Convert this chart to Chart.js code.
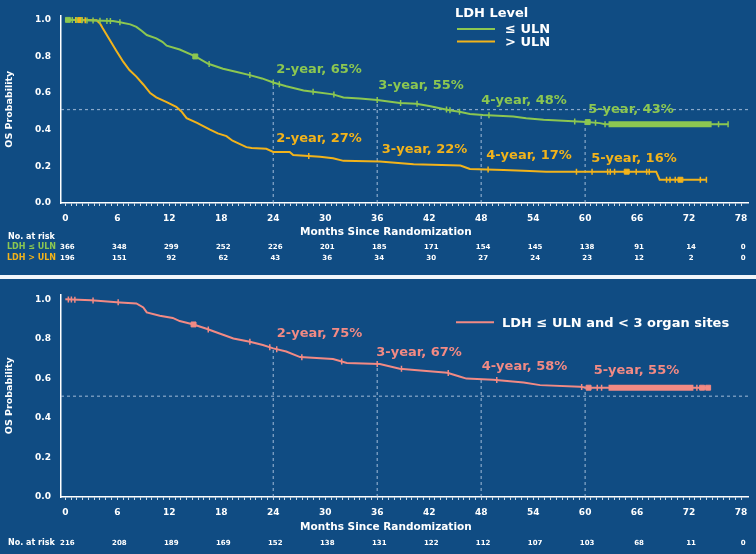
<!DOCTYPE html>
<html>
<head>
<meta charset="utf-8">
<script src="https://cdn.jsdelivr.net/npm/chart.js@4.4.1/dist/chart.umd.min.js"></script>
<style>
html, body { margin: 0; padding: 0; background: #104c83; }
#wrap { width: 756px; height: 554px; background: #104c83; }
canvas { display: block; }
#sep { height: 4px; background: #f2f6fa; }
</style>
</head>
<body>
<div id="wrap">
  <canvas id="topChart" width="756" height="275"></canvas>
  <div id="sep"></div>
  <canvas id="bottomChart" width="756" height="275"></canvas>
</div>
<script>
var FONT = '"DejaVu Sans", Verdana, sans-serif';
var WHITE = '#ffffff';
var GREEN = '#8cc751';
var ORANGE = '#f2b31b';
var PINK = '#f28a84';
var DASH = 'rgba(190,208,232,0.7)';

// Axes
var monthTicks = [0, 6, 12, 18, 24, 30, 36, 42, 48, 54, 60, 66, 72, 78];
var probTicks = [0, 0.2, 0.4, 0.6, 0.8, 1.0];
var yearMarks = [24, 36, 48, 60];
var medianRef = 0.51;
var xMin = -0.5, xMax = 78.8;

// LDH <= ULN (green), curve path
var lowMonths = [0, 5.5, 6.3, 7.5, 8.2, 8.8, 9.4, 10.5, 11.2, 11.7, 13.2, 15.0, 16.5, 18.2, 19.8, 21.3, 22.7, 24.0, 25.5, 27.5, 28.6, 30.9, 32.1, 34.0, 36.0, 38.6, 40.5, 42.0, 43.5, 44.5, 45.5, 46.7, 48.2, 51.7, 53.2, 55.2, 58.6, 60.2, 61.7, 62.3, 76.5];
var lowSurv   = [1.0, 0.993, 0.987, 0.975, 0.961, 0.94, 0.917, 0.899, 0.88, 0.859, 0.838, 0.80, 0.76, 0.733, 0.715, 0.698, 0.68, 0.658, 0.637, 0.614, 0.607, 0.593, 0.576, 0.57, 0.562, 0.546, 0.542, 0.53, 0.515, 0.505, 0.498, 0.486, 0.48, 0.472, 0.463, 0.454, 0.446, 0.442, 0.436, 0.43, 0.43];
var lowCensor = [0.8, 1.3, 1.9, 2.5, 3.2, 4.0, 4.8, 5.2, 6.3, 16.6, 21.3, 24.0, 24.7, 28.6, 31.0, 36.0, 38.7, 40.6, 44.0, 44.4, 45.5, 48.9, 58.8, 61.2, 62.3, 75.4, 76.5];
var lowClusters = [0.3, 15.0, 60.3];
var lowBand = [62.7, 74.6];
var lowPct = [65, 55, 48, 43];

// LDH > ULN (orange)
var highMonths = [0, 3.6, 4.0, 4.3, 5.1, 5.9, 6.7, 7.4, 8.2, 9.0, 9.8, 10.5, 11.7, 12.8, 13.4, 14.0, 15.2, 16.7, 17.6, 18.6, 19.3, 20.9, 21.5, 23.2, 24.0, 25.9, 26.3, 29.4, 30.9, 32.1, 36.3, 40.2, 45.6, 46.7, 50.6, 53.6, 55.5, 68.2, 68.6, 74.0];
var highSurv   = [1.0, 0.997, 0.98, 0.955, 0.893, 0.83, 0.77, 0.726, 0.69, 0.647, 0.60, 0.577, 0.551, 0.525, 0.50, 0.463, 0.437, 0.40, 0.38, 0.365, 0.34, 0.305, 0.30, 0.296, 0.279, 0.279, 0.262, 0.253, 0.244, 0.23, 0.226, 0.212, 0.205, 0.186, 0.18, 0.174, 0.171, 0.171, 0.127, 0.127];
var highCensor = [1.2, 2.3, 28.1, 48.8, 59.0, 60.8, 62.6, 62.9, 63.4, 65.9, 67.1, 67.4, 69.4, 69.8, 70.4, 73.3, 74.0];
var highClusters = [1.7, 64.8, 71.0];
var highPct = [27, 22, 17, 16];

// LDH <= ULN and < 3 organ sites (pink)
var subMonths = [0, 3.0, 6.3, 8.2, 9.0, 9.4, 10.9, 12.4, 13.2, 14.8, 16.3, 17.8, 19.4, 21.3, 22.8, 24.0, 25.5, 27.1, 30.9, 32.5, 36.3, 38.6, 41.0, 44.1, 45.5, 46.3, 49.4, 52.9, 54.8, 59.4, 60.2, 74.4];
var subSurv   = [1.0, 0.995, 0.984, 0.979, 0.959, 0.934, 0.917, 0.906, 0.89, 0.873, 0.851, 0.827, 0.802, 0.785, 0.769, 0.752, 0.736, 0.708, 0.698, 0.678, 0.673, 0.649, 0.64, 0.629, 0.61, 0.599, 0.593, 0.579, 0.566, 0.558, 0.553, 0.553];
var subCensor = [0.35, 0.7, 1.1, 3.2, 6.1, 16.5, 21.3, 23.6, 24.4, 27.3, 31.9, 36.0, 38.8, 44.2, 49.8, 59.6, 61.4, 61.9, 72.9];
var subClusters = [14.8, 60.4, 73.5, 74.2];
var subBand = [62.7, 72.5];
var subPct = [75, 67, 58, 55];

// Numbers at risk
var riskLow  = [366, 348, 299, 252, 226, 201, 185, 171, 154, 145, 138, 91, 14, 0];
var riskHigh = [196, 151, 92, 62, 43, 36, 34, 30, 27, 24, 23, 12, 2, 0];
var riskSub  = [216, 208, 189, 169, 152, 138, 131, 122, 112, 107, 103, 68, 11, 0];

// value of a curve at month t (along the drawn path)
function survAt(months, surv, t) {
  if (t <= months[0]) return surv[0];
  for (var i = 1; i < months.length; i++) {
    if (t <= months[i]) {
      var f = (t - months[i - 1]) / (months[i] - months[i - 1]);
      return surv[i - 1] + f * (surv[i] - surv[i - 1]);
    }
  }
  return surv[surv.length - 1];
}

function curveSets(months, surv, censor, clusters, band, color) {
  var pts = months.map(function (m, i) { return {x: m, y: surv[i]}; });
  var onCurve = function (list) {
    return list.map(function (m) { return {x: m, y: survAt(months, surv, m)}; });
  };
  var sets = [
    {data: pts, borderColor: color, borderWidth: 2, pointRadius: 0, order: 2},
    {data: onCurve(censor), showLine: false, pointStyle: 'line', rotation: 90, pointRadius: 3,
     pointBorderWidth: 1.5, pointBorderColor: color, order: 1},
    {data: onCurve(clusters), showLine: false, pointStyle: 'rect', pointRadius: 3.5,
     pointBackgroundColor: color, pointBorderColor: color, pointBorderWidth: 1, order: 1}
  ];
  if (band) {
    sets.push({data: onCurve(band), borderColor: color, borderWidth: 6, borderCapStyle: 'butt',
               pointRadius: 0, order: 1});
  }
  return sets;
}

// dashed median line + dashed drops at each year mark
function refSets(months, surv) {
  var sets = [{data: [{x: xMin, y: medianRef}, {x: xMax, y: medianRef}], borderColor: DASH,
               borderWidth: 1.2, borderDash: [3, 3], pointRadius: 0, order: 5}];
  yearMarks.forEach(function (m) {
    sets.push({data: [{x: m, y: 0}, {x: m, y: survAt(months, surv, m)}], borderColor: DASH,
               borderWidth: 1.2, borderDash: [3, 3], pointRadius: 0, order: 5});
  });
  return sets;
}

// "N-year, xx%" labels next to each year mark
var yearLabelPlugin = {
  id: 'yearLabels',
  afterDatasetsDraw: function (chart, args, opts) {
    var ctx = chart.ctx, xs = chart.scales.x, ys = chart.scales.y;
    ctx.save();
    ctx.font = 'bold 13px ' + FONT;
    ctx.textBaseline = 'middle';
    ctx.textAlign = 'left';
    opts.groups.forEach(function (g) {
      ctx.fillStyle = g.color;
      yearMarks.forEach(function (m, i) {
        var px = xs.getPixelForValue(m) + g.offsets[i][0];
        var py = ys.getPixelForValue(survAt(g.months, g.surv, m)) + g.offsets[i][1];
        ctx.fillText((m / 12) + '-year, ' + g.pct[i] + '%', px, py);
      });
    });
    ctx.restore();
  }
};

// x title + number at risk table under the axis
var riskPlugin = {
  id: 'atRisk',
  afterDraw: function (chart, args, opts) {
    var ctx = chart.ctx, xs = chart.scales.x, base = chart.chartArea.bottom;
    ctx.save();
    ctx.textBaseline = 'middle';
    ctx.fillStyle = WHITE;
    ctx.textAlign = 'center';
    ctx.font = 'bold 10.5px ' + FONT;
    ctx.fillText('Months Since Randomization', xs.getPixelForValue(37), base + opts.titleDy);
    ctx.textAlign = 'left';
    ctx.font = 'bold 8px ' + FONT;
    ctx.fillText('No. at risk', 8, base + opts.headerDy);
    opts.rows.forEach(function (r) {
      if (r.label) {
        ctx.textAlign = 'left';
        ctx.font = 'bold 8px ' + FONT;
        ctx.fillStyle = r.color;
        ctx.fillText(r.label, 7, base + r.dy);
      }
      ctx.textAlign = 'center';
      ctx.font = 'bold 7px ' + FONT;
      ctx.fillStyle = WHITE;
      monthTicks.forEach(function (m, i) {
        ctx.fillText(String(r.values[i]), xs.getPixelForValue(m) + 2, base + r.dy);
      });
    });
    ctx.restore();
  }
};

// legend box
var keyPlugin = {
  id: 'keyBox',
  afterDraw: function (chart, args, opts) {
    var ctx = chart.ctx;
    ctx.save();
    ctx.textBaseline = 'middle';
    ctx.textAlign = 'left';
    ctx.font = 'bold 13px ' + FONT;
    if (opts.title) {
      ctx.fillStyle = WHITE;
      ctx.fillText(opts.title, opts.x - 2, opts.titleY);
    }
    opts.items.forEach(function (it) {
      ctx.strokeStyle = it.color;
      ctx.lineWidth = 2;
      ctx.beginPath();
      ctx.moveTo(opts.x, it.y);
      ctx.lineTo(opts.x + 38, it.y);
      ctx.stroke();
      ctx.fillStyle = WHITE;
      ctx.fillText(it.text, opts.x + opts.textGap, it.y + 1);
    });
    ctx.restore();
  }
};

function makeChart(id, datasets, padTop, axisH, yMax, plugOpts) {
  return new Chart(document.getElementById(id), {
    type: 'line',
    data: {datasets: datasets},
    options: {
      responsive: false,
      animation: false,
      events: [],
      layout: {padding: {top: padTop, right: 8, left: 0, bottom: 0}},
      scales: {
        x: {
          type: 'linear', min: xMin, max: xMax,
          afterBuildTicks: function (s) {
            // minor ticks every 2/3 month, labels every 6 months
            var t = [];
            for (var i = 0; i <= 117; i++) t.push({value: i * 2 / 3});
            s.ticks = t;
          },
          afterFit: function (s) { s.height = axisH; },
          border: {color: WHITE, width: 1.5},
          grid: {drawOnChartArea: false, drawTicks: true, tickLength: 3, color: 'rgba(255,255,255,0.8)'},
          ticks: {
            autoSkip: false, maxRotation: 0, padding: 7, color: WHITE,
            font: {family: FONT, size: 9, weight: 'bold'},
            callback: function (v, i) { return i % 9 === 0 ? String(Math.round(v)) : ''; }
          }
        },
        y: {
          min: 0, max: yMax,
          afterBuildTicks: function (s) { s.ticks = probTicks.map(function (v) { return {value: v}; }); },
          afterFit: function (s) { s.width = 61; },
          border: {color: WHITE, width: 1.5},
          grid: {drawOnChartArea: false, drawTicks: false},
          ticks: {
            padding: 10, color: WHITE, font: {family: FONT, size: 9, weight: 'bold'},
            callback: function (v) { return v.toFixed(1); }
          },
          title: {display: true, text: 'OS Probability', color: WHITE,
                  font: {family: FONT, size: 9.5, weight: 'bold'}, padding: {top: 4, bottom: 0}}
        }
      },
      plugins: {
        legend: {display: false},
        tooltip: {enabled: false},
        yearLabels: plugOpts.yearLabels,
        atRisk: plugOpts.atRisk,
        keyBox: plugOpts.keyBox
      }
    },
    plugins: [yearLabelPlugin, riskPlugin, keyPlugin]
  });
}

// Top panel: LDH level
var topSets = refSets(lowMonths, lowSurv)
  .concat(curveSets(lowMonths, lowSurv, lowCensor, lowClusters, lowBand, GREEN))
  .concat(curveSets(highMonths, highSurv, highCensor, highClusters, null, ORANGE));

makeChart('topChart', topSets, 8, 72, 1.024, {
  yearLabels: {groups: [
    {color: GREEN, months: lowMonths, surv: lowSurv, pct: lowPct,
     offsets: [[3, -13], [1, -14.5], [0, -14], [3, -12]]},
    {color: ORANGE, months: highMonths, surv: highSurv, pct: highPct,
     offsets: [[3, -13.5], [4.5, -11.5], [5, -13.5], [6, -13.5]]}
  ]},
  atRisk: {titleDy: 29.7, headerDy: 33.7, rows: [
    {label: 'LDH \u2264 ULN', color: GREEN, values: riskLow, dy: 44.3},
    {label: 'LDH > ULN', color: ORANGE, values: riskHigh, dy: 55.3}
  ]},
  keyBox: {title: 'LDH Level', titleY: 13.5, x: 457, textGap: 48, items: [
    {color: GREEN, text: '\u2264 ULN', y: 29},
    {color: ORANGE, text: '> ULN', y: 41.5}
  ]}
});

// Bottom panel: LDH <= ULN and < 3 organ sites
var bottomSets = refSets(subMonths, subSurv)
  .concat(curveSets(subMonths, subSurv, subCensor, subClusters, subBand, PINK));

makeChart('bottomChart', bottomSets, 11, 57, 1.025, {
  yearLabels: {groups: [
    {color: PINK, months: subMonths, surv: subSurv, pct: subPct,
     offsets: [[3.5, -15], [-1, -11], [0.5, -12.7], [8.5, -17]]}
  ]},
  atRisk: {titleDy: 30.3, headerDy: 45.7, rows: [
    {label: '', color: WHITE, values: riskSub, dy: 45.7}
  ]},
  keyBox: {title: '', x: 456, textGap: 46, items: [
    {color: PINK, text: 'LDH \u2264 ULN and < 3 organ sites', y: 43.3}
  ]}
});
</script>
</body>
</html>
